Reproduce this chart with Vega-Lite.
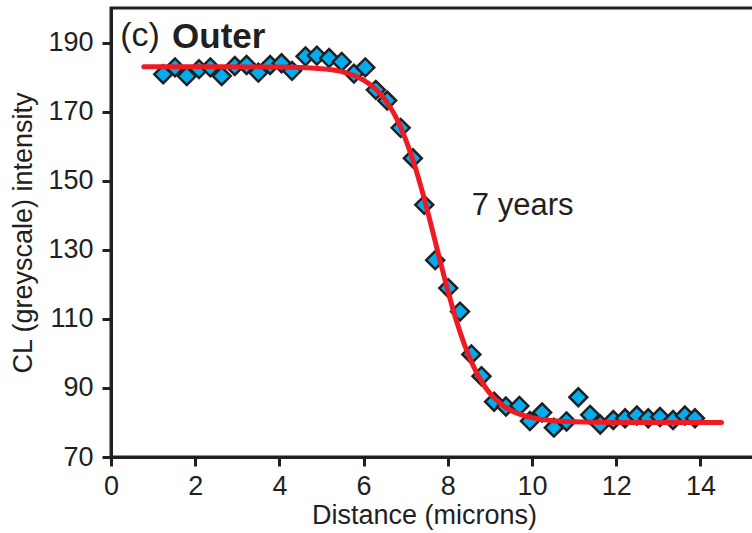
{
  "$schema": "https://vega.github.io/schema/vega-lite/v6.json",
  "autosize": {"type": "none"},
  "padding": {"left": 111, "top": 8, "right": 0, "bottom": 76},
  "width": 645,
  "height": 449,
  "background": "white",
  "config": {
    "view": {"stroke": "#231f20", "strokeWidth": 3},
    "font": "Liberation Sans",
    "axis": {
      "domainColor": "#231f20", "domainWidth": 3,
      "tickColor": "#231f20", "tickWidth": 3, "tickSize": 9,
      "labelColor": "#231f20", "labelFont": "Liberation Sans", "labelFontSize": 27,
      "titleColor": "#231f20", "titleFont": "Liberation Sans", "titleFontSize": 27, "titleFontWeight": "normal",
      "grid": false, "labelFlush": false, "labelOverlap": false
    }
  },
  "datasets": {
    "points": [
      {"d": 1.24, "cl": 180.8}, {"d": 1.52, "cl": 182.8}, {"d": 1.80, "cl": 180.3}, {"d": 2.09, "cl": 182.3},
      {"d": 2.36, "cl": 182.8}, {"d": 2.63, "cl": 180.3}, {"d": 2.94, "cl": 183.2}, {"d": 3.22, "cl": 183.5},
      {"d": 3.50, "cl": 181.3}, {"d": 3.78, "cl": 183.5}, {"d": 4.05, "cl": 184.0}, {"d": 4.30, "cl": 181.8},
      {"d": 4.62, "cl": 186.0}, {"d": 4.89, "cl": 186.2}, {"d": 5.18, "cl": 185.5}, {"d": 5.48, "cl": 184.4},
      {"d": 5.77, "cl": 181.0}, {"d": 6.04, "cl": 182.8}, {"d": 6.29, "cl": 176.3}, {"d": 6.56, "cl": 173.2},
      {"d": 6.88, "cl": 165.3}, {"d": 7.17, "cl": 156.5}, {"d": 7.44, "cl": 143.0}, {"d": 7.70, "cl": 127.0},
      {"d": 8.01, "cl": 118.9}, {"d": 8.29, "cl": 112.1}, {"d": 8.56, "cl": 99.7}, {"d": 8.80, "cl": 93.4},
      {"d": 9.10, "cl": 86.0}, {"d": 9.38, "cl": 84.6}, {"d": 9.70, "cl": 84.8}, {"d": 9.95, "cl": 80.4},
      {"d": 10.24, "cl": 82.9}, {"d": 10.52, "cl": 78.5}, {"d": 10.82, "cl": 80.3}, {"d": 11.10, "cl": 87.3},
      {"d": 11.38, "cl": 82.2}, {"d": 11.62, "cl": 79.4}, {"d": 11.93, "cl": 80.7}, {"d": 12.21, "cl": 81.2},
      {"d": 12.49, "cl": 82.0}, {"d": 12.76, "cl": 81.2}, {"d": 13.04, "cl": 81.6}, {"d": 13.35, "cl": 80.7},
      {"d": 13.63, "cl": 82.0}, {"d": 13.87, "cl": 81.2}
    ],
    "fit": [
      {"d": 0.78, "cl": 183.0}, {"d": 2.0, "cl": 183.0}, {"d": 4.0, "cl": 182.9}, {"d": 5.0, "cl": 182.4},
      {"d": 5.5, "cl": 181.5}, {"d": 6.0, "cl": 179.1}, {"d": 6.4, "cl": 175.1}, {"d": 6.8, "cl": 167.6},
      {"d": 7.0, "cl": 161.9}, {"d": 7.2, "cl": 154.9}, {"d": 7.4, "cl": 146.6}, {"d": 7.6, "cl": 137.3},
      {"d": 7.8, "cl": 127.6}, {"d": 8.0, "cl": 118.2}, {"d": 8.2, "cl": 109.6}, {"d": 8.4, "cl": 102.4},
      {"d": 8.6, "cl": 96.5}, {"d": 8.8, "cl": 91.9}, {"d": 9.0, "cl": 88.4}, {"d": 9.3, "cl": 85.0},
      {"d": 9.6, "cl": 82.9}, {"d": 10.0, "cl": 81.4}, {"d": 10.5, "cl": 80.5}, {"d": 11.0, "cl": 80.2},
      {"d": 12.0, "cl": 80.0}, {"d": 14.5, "cl": 80.0}
    ]
  },
  "layer": [
    {
      "data": {"name": "points"},
      "mark": {"type": "point", "shape": "diamond", "filled": true, "fill": "#00aeef", "stroke": "#231f20", "strokeWidth": 2.5, "size": 320, "opacity": 1},
      "encoding": {
        "x": {"field": "d", "type": "quantitative", "scale": {"domain": [0, 15.32], "nice": false, "zero": false},
          "axis": {"title": "Distance (microns)", "values": [0, 2, 4, 6, 8, 10, 12, 14], "labelPadding": 7, "titlePadding": 3, "titleX": 313}},
        "y": {"field": "cl", "type": "quantitative", "scale": {"domain": [70, 200], "nice": false, "zero": false},
          "axis": {"title": "CL (greyscale) intensity", "values": [70, 90, 110, 130, 150, 170, 190], "labelPadding": 9, "titlePadding": 10}}
      }
    },
    {
      "data": {"name": "fit"},
      "mark": {"type": "line", "color": "#ed1c24", "strokeWidth": 5, "interpolate": "monotone", "strokeCap": "round"},
      "encoding": {
        "x": {"field": "d", "type": "quantitative"},
        "y": {"field": "cl", "type": "quantitative"}
      }
    },
    {
      "data": {"values": [{"d": 0.22, "cl": 192.0, "t": "(c)"}]},
      "mark": {"type": "text", "align": "left", "baseline": "middle", "fontSize": 34, "color": "#231f20", "font": "Liberation Sans"},
      "encoding": {"x": {"field": "d", "type": "quantitative"}, "y": {"field": "cl", "type": "quantitative"}, "text": {"field": "t"}}
    },
    {
      "data": {"values": [{"d": 1.45, "cl": 191.6, "t": "Outer"}]},
      "mark": {"type": "text", "align": "left", "baseline": "middle", "fontSize": 35, "fontWeight": "bold", "color": "#231f20", "font": "Liberation Sans"},
      "encoding": {"x": {"field": "d", "type": "quantitative"}, "y": {"field": "cl", "type": "quantitative"}, "text": {"field": "t"}}
    },
    {
      "data": {"values": [{"d": 8.57, "cl": 142.8, "t": "7 years"}]},
      "mark": {"type": "text", "align": "left", "baseline": "middle", "fontSize": 31, "color": "#231f20", "font": "Liberation Sans"},
      "encoding": {"x": {"field": "d", "type": "quantitative"}, "y": {"field": "cl", "type": "quantitative"}, "text": {"field": "t"}}
    }
  ]
}
